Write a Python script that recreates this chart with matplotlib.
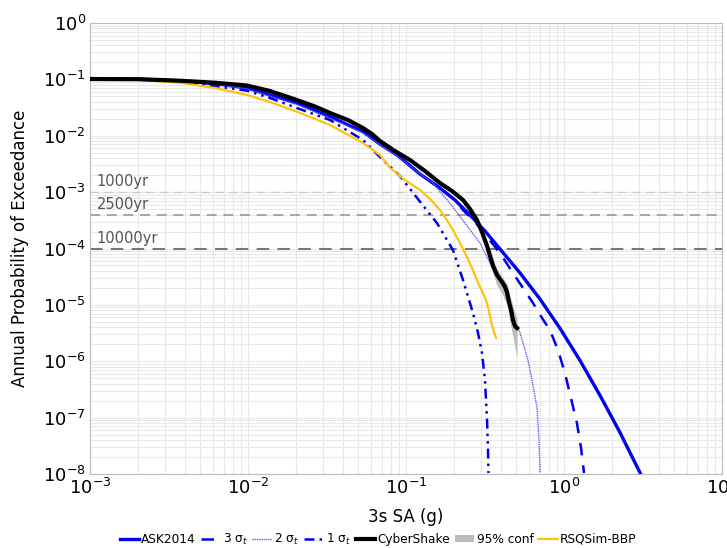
import numpy as np
import matplotlib

matplotlib.use("Agg")
import matplotlib.pyplot as plt
from matplotlib.patches import Patch
from matplotlib.lines import Line2D

# curves, stored as log10(x) / log10(y)
ask_lx = [-3.000, -2.684, -2.430, -2.209, -2.006, -1.861, -1.690, -1.481, -1.272, -1.165,
          -1.057, -0.911, -0.785, -0.690, -0.595, -0.500, -0.405, -0.278, -0.152, -0.025,
          0.101, 0.228, 0.354, 0.482]
ask_ly = [-0.993, -0.999, -1.025, -1.073, -1.153, -1.277, -1.419, -1.662, -1.928, -2.146,
          -2.341, -2.679, -2.927, -3.140, -3.406, -3.690, -4.009, -4.435, -4.896, -5.417,
          -5.984, -6.606, -7.261, -7.982]

s3_lx = [-3.000, -2.684, -2.430, -2.209, -2.006, -1.861, -1.690, -1.481, -1.272, -1.165,
         -1.057, -0.911, -0.785, -0.690, -0.639, -0.563, -0.487, -0.405, -0.323, -0.259,
         -0.196, -0.139, -0.089, -0.038, 0.006, 0.044, 0.082, 0.108, 0.127]
s3_ly = [-0.993, -0.999, -1.025, -1.073, -1.153, -1.277, -1.419, -1.662, -1.928, -2.146,
         -2.341, -2.679, -2.927, -3.140, -3.317, -3.530, -3.791, -4.080, -4.435, -4.701,
         -4.967, -5.233, -5.446, -5.801, -6.209, -6.652, -7.096, -7.539, -7.982]

s2_lx = [-3.000, -2.684, -2.430, -2.209, -2.006, -1.861, -1.690, -1.481, -1.272, -1.165,
         -1.057, -0.943, -0.829, -0.703, -0.532, -0.424, -0.342, -0.278, -0.228, -0.203,
         -0.171, -0.158, -0.152]
s2_ly = [-0.993, -1.000, -1.029, -1.082, -1.171, -1.295, -1.446, -1.685, -1.951, -2.155,
         -2.359, -2.608, -2.838, -3.264, -3.902, -4.506, -5.038, -5.499, -5.978, -6.333,
         -6.812, -7.397, -7.982]

s1_lx = [-3.000, -2.684, -2.430, -2.209, -2.006, -1.861, -1.690, -1.481, -1.272, -1.146,
         -1.038, -0.911, -0.804, -0.703, -0.639, -0.576, -0.544, -0.519, -0.500, -0.487,
         -0.481, -0.478]
s1_ly = [-0.993, -1.004, -1.047, -1.118, -1.201, -1.330, -1.508, -1.721, -2.075, -2.430,
         -2.714, -3.170, -3.548, -4.027, -4.559, -5.144, -5.499, -5.854, -6.333, -7.042,
         -7.574, -7.982]

cs_lx = [-3.000, -2.684, -2.430, -2.209, -2.006, -1.861, -1.690, -1.576, -1.481, -1.367,
         -1.272, -1.215, -1.165, -1.070, -0.975, -0.880, -0.785, -0.709, -0.639, -0.595,
         -0.551, -0.519, -0.487, -0.468, -0.449, -0.424, -0.392, -0.373, -0.361, -0.348,
         -0.335, -0.323, -0.310, -0.297]
cs_ly = [-0.993, -0.997, -1.024, -1.059, -1.109, -1.206, -1.366, -1.481, -1.596, -1.721,
         -1.863, -1.969, -2.093, -2.271, -2.430, -2.625, -2.838, -2.980, -3.140, -3.299,
         -3.494, -3.707, -3.956, -4.133, -4.310, -4.470, -4.594, -4.683, -4.772, -4.949,
         -5.091, -5.268, -5.375, -5.410]

conf_lx = [-0.551, -0.519, -0.487, -0.449, -0.424, -0.392, -0.361, -0.335, -0.310, -0.297]
conf_hi = [-3.45, -3.63, -3.86, -4.18, -4.36, -4.50, -4.62, -4.90, -5.15, -5.25]
conf_lo = [-3.54, -3.80, -4.08, -4.45, -4.65, -4.80, -5.00, -5.40, -5.75, -5.93]

rsq_lx = [-3.000, -2.684, -2.430, -2.209, -2.006, -1.861, -1.690, -1.481, -1.272, -1.165,
          -1.101, -1.006, -0.911, -0.848, -0.785, -0.741, -0.703, -0.658, -0.614, -0.582,
          -0.551, -0.532, -0.513, -0.494, -0.481, -0.468, -0.456, -0.443, -0.430]
rsq_ly = [-0.993, -1.011, -1.059, -1.153, -1.277, -1.401, -1.573, -1.809, -2.129, -2.341,
          -2.572, -2.785, -2.962, -3.122, -3.317, -3.494, -3.672, -3.902, -4.151, -4.346,
          -4.559, -4.683, -4.789, -4.914, -5.038, -5.197, -5.357, -5.481, -5.588]

return_periods = ["1000yr", "2500yr", "10000yr"]
return_probs = [1e-3, 4e-4, 1e-4]
return_colors = ["#cccccc", "#999999", "#777777"]
return_widths = [1.0, 1.2, 1.5]


def p(v):
    return 10 ** np.asarray(v, dtype=float)


fig = plt.figure(figsize=(7.27, 5.48), dpi=100)
ax = fig.add_axes([0.1238, 0.135, 0.8693, 0.823])
ax.set_xscale("log")
ax.set_yscale("log")
ax.set_xlim(1e-3, 1e1)
ax.set_ylim(1e-8, 1e0)

ax.grid(True, which="both", color="#e8e8e8", linewidth=0.8)
ax.set_axisbelow(True)
for sp in ax.spines.values():
    sp.set_color("#bbbbbb")
ax.tick_params(which="both", length=0, labelsize=13, pad=3)

for label, prob, col, lw in zip(return_periods, return_probs, return_colors, return_widths):
    ax.axhline(prob, color=col, linestyle=(0, (6, 4)), linewidth=lw, zorder=1)
    ax.text(1.1e-3, prob * 1.12, label, color="#555555", fontsize=10.5, va="bottom", ha="left")

blue = "#0000ee"
ax.plot(p(ask_lx), p(ask_ly), color=blue, lw=2.4, zorder=3)
ax.plot(p(s3_lx), p(s3_ly), color=blue, lw=1.8, ls=(0, (5, 4)), zorder=3)
ax.plot(p(s2_lx), p(s2_ly), color="#5c5cff", lw=1.0, ls=(0, (1, 0.6)), zorder=3)
ax.plot(p(s1_lx), p(s1_ly), color=blue, lw=1.8, ls=(0, (4, 2, 1, 2, 1, 2)), zorder=3)
ax.fill_between(p(conf_lx), p(conf_lo), p(conf_hi), color="#bbbbbb", lw=0, zorder=4)
ax.plot(p(cs_lx), p(cs_ly), color="black", lw=3.0, zorder=5)
ax.plot(p(rsq_lx), p(rsq_ly), color="#ffc20e", lw=1.6, zorder=4)

ax.set_xlabel("3s SA (g)", fontsize=12, labelpad=7)
ax.set_ylabel("Annual Probability of Exceedance", fontsize=12)
ax.yaxis.set_label_coords(-0.096, 0.5)

handles = [
    Line2D([], [], color=blue, lw=2.4),
    Line2D([], [], color=blue, lw=1.8, ls=(0, (5, 4))),
    Line2D([], [], color="#5c5cff", lw=1.0, ls=(0, (1, 0.6))),
    Line2D([], [], color=blue, lw=1.8, ls=(0, (4, 2, 1, 2, 1, 2))),
    Line2D([], [], color="black", lw=3.0),
    Patch(facecolor="#bbbbbb", edgecolor="none"),
    Line2D([], [], color="#ffc20e", lw=1.6),
]
labels = ["ASK2014", "3 σ$_t$", "2 σ$_t$", "1 σ$_t$", "CyberShake", "95% conf", "RSQSim-BBP"]
fig.legend(handles, labels, loc="lower center", bbox_to_anchor=(0.52, -0.018), ncol=7,
           frameon=False, fontsize=8.7, handlelength=1.6, handletextpad=0.2,
           columnspacing=0.4, handleheight=0.6)

fig.savefig("out.png", dpi=100)
